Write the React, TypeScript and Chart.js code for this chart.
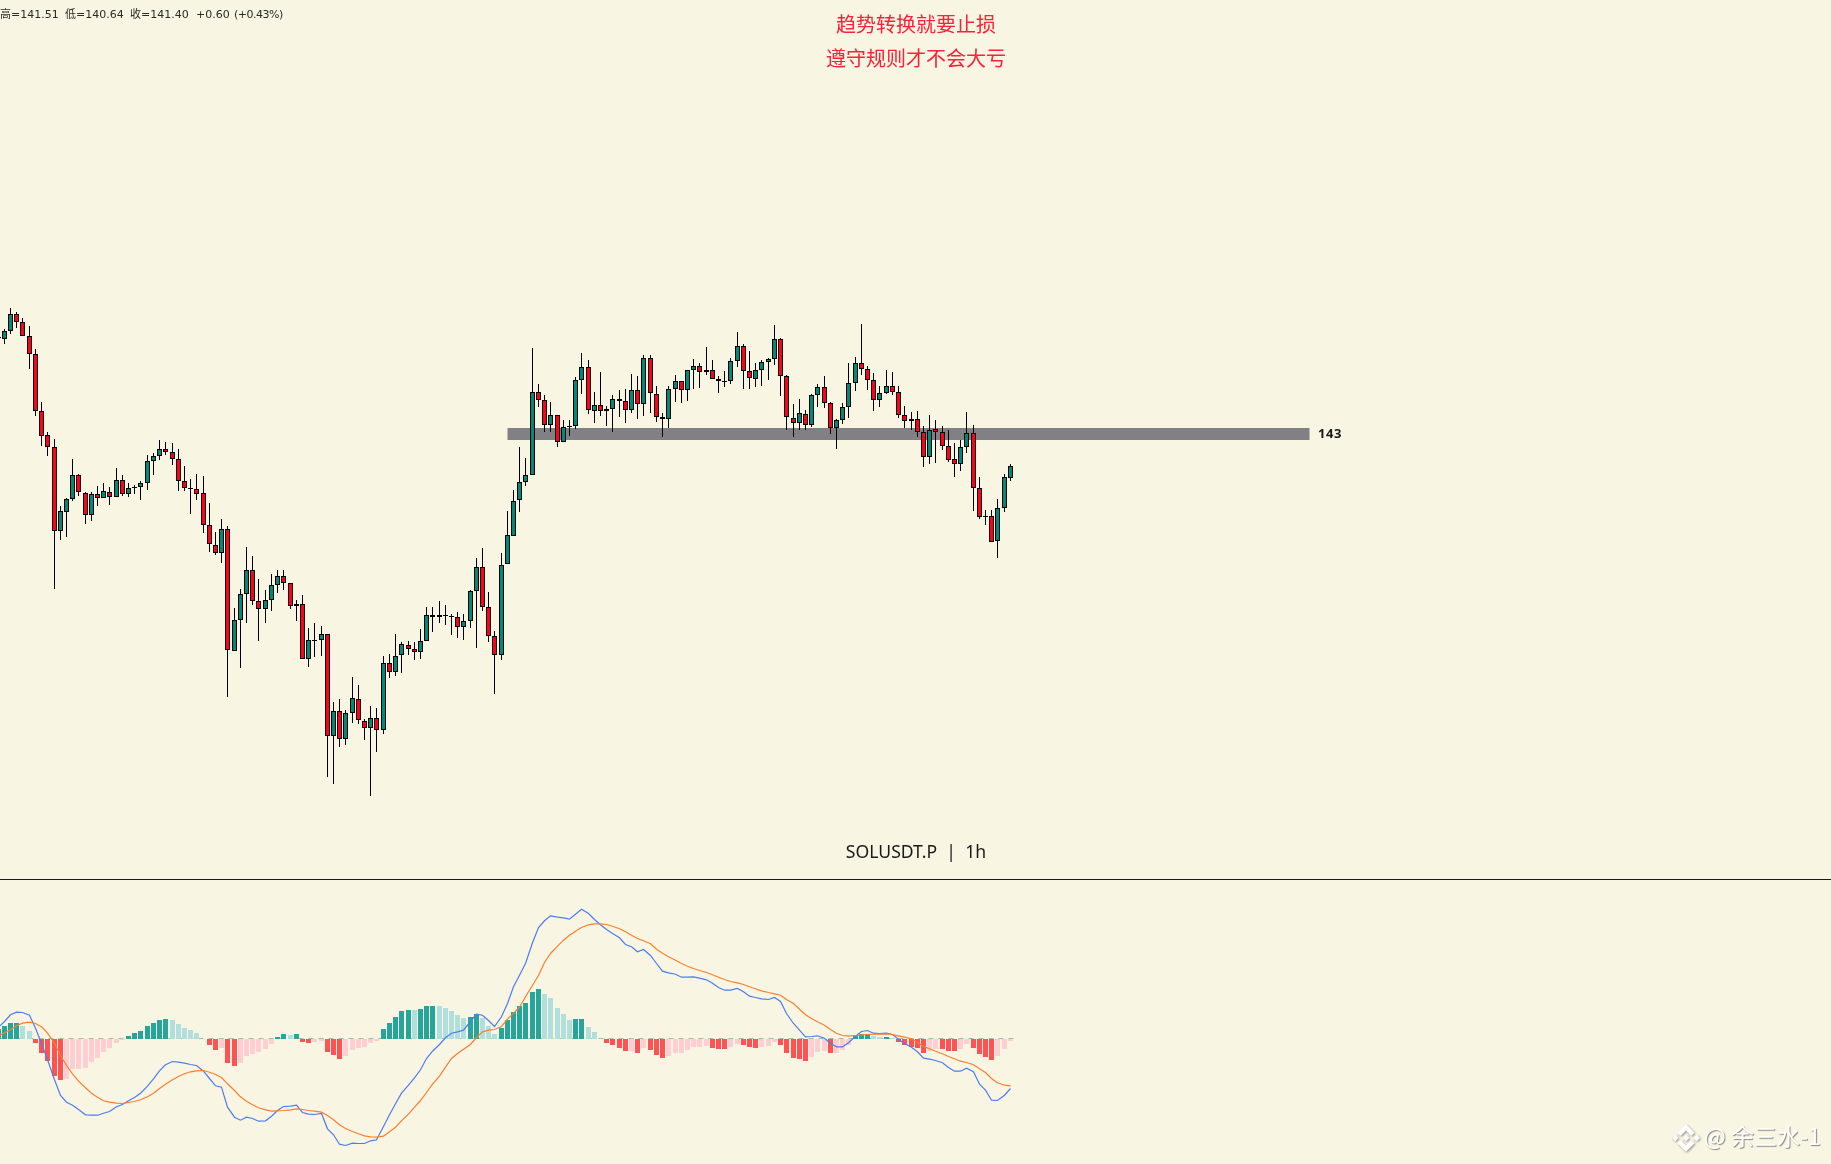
import React, { useEffect, useRef } from "react";
import { Chart, registerables, LinearScale } from "chart.js";

class SnapX extends LinearScale {
  static id = "snapX";
  getPixelForValue(v: number) {
    return Math.floor(super.getPixelForValue(v)) + 0.5;
  }
}
class SnapY extends LinearScale {
  static id = "snapY";
  getPixelForValue(v: number) {
    return Math.round(super.getPixelForValue(v));
  }
}
Chart.register(...registerables, SnapX as any, SnapY as any);

const opens = [147.85,147.77,148.13,148.98,148.58,147.88,146.98,144.13,142.93,142.33,138.13,139.08,139.73,140.93,140.03,138.93,139.98,139.78,140.08,139.83,140.68,139.98,140.28,140.33,140.53,141.63,141.88,142.23,142.08,141.73,140.63,140.28,140.23,140.03,138.43,137.43,137.03,138.23,132.13,133.68,134.98,136.18,134.63,134.23,134.68,135.43,135.88,135.53,134.38,134.48,131.73,132.68,132.68,132.98,127.88,129.13,127.73,129.03,129.73,128.63,128.28,128.78,128.18,131.53,131.08,131.93,132.43,132.23,132.08,132.63,133.93,133.83,133.93,133.88,133.87,133.33,133.63,135.13,136.33,134.33,132.88,131.93,136.48,137.88,139.68,140.58,140.93,145.08,144.68,143.43,143.93,142.58,143.33,143.38,145.68,146.33,144.13,144.43,144.13,144.23,144.73,144.63,144.18,145.18,144.48,146.78,144.98,143.83,143.73,145.23,145.63,145.18,146.18,146.38,146.08,146.18,145.73,145.63,145.63,146.63,147.38,146.13,145.73,146.18,146.58,146.73,147.73,145.88,143.78,143.53,143.98,143.43,144.93,145.33,144.53,143.28,143.68,144.33,145.53,146.53,146.23,145.68,144.68,145.03,145.38,145.08,143.93,143.63,143.73,143.08,141.83,143.23,143.08,142.38,141.73,141.48,142.33,143.03,140.28,138.88,138.88,137.63,139.28,140.8];
const closes = [147.8,148.13,148.98,148.58,147.88,146.98,144.13,142.88,142.33,138.13,139.13,139.73,140.93,140.08,138.93,139.98,139.82,140.13,139.83,140.68,139.98,140.28,140.33,140.53,141.63,141.88,142.23,142.08,141.73,140.63,140.28,140.23,140.02,138.43,137.48,137.03,138.23,132.18,133.68,134.98,136.18,134.63,134.23,134.68,135.43,135.88,135.53,134.38,134.48,131.73,132.68,132.63,132.98,127.88,129.13,127.73,129.03,129.78,128.68,128.28,128.78,128.18,131.53,131.08,131.88,132.48,132.23,132.08,132.63,133.93,133.83,133.93,133.88,133.83,133.33,133.63,135.13,136.33,134.33,132.88,131.93,136.43,137.93,139.63,140.58,140.93,145.08,144.68,143.43,143.93,142.58,143.33,143.38,145.68,146.33,144.18,144.43,144.13,144.23,144.73,144.63,144.18,145.18,144.48,146.78,145.03,143.83,143.73,145.23,145.63,145.18,146.18,146.38,146.08,146.18,145.73,145.63,145.58,146.63,147.38,146.13,145.78,146.18,146.58,146.73,147.73,145.88,143.83,143.53,144.03,143.43,144.93,145.33,144.53,143.28,143.68,144.33,145.53,146.53,146.23,145.68,144.68,145.03,145.38,145.08,143.93,143.63,143.73,143.08,141.83,143.18,143.08,142.38,141.68,141.48,142.33,143.03,140.28,138.83,138.83,137.58,139.28,140.83,141.4];
const highs = [147.87,148.23,149.28,149.08,148.78,148.38,147.23,144.58,143.08,142.73,139.38,139.78,141.73,140.98,140.1,140.08,140.38,140.53,140.33,141.28,140.93,140.53,140.43,140.63,141.93,142.03,142.68,142.58,142.53,142.23,141.38,140.73,140.98,140.88,139.53,138.08,138.73,138.38,134.28,135.23,137.33,136.88,135.73,135.18,135.98,136.18,136.18,135.53,134.68,134.93,133.28,133.53,133.38,132.98,129.58,129.73,129.18,130.83,130.43,128.73,129.38,129.28,131.88,131.98,132.98,132.58,132.63,132.58,133.23,134.33,134.33,134.63,134.43,133.98,134.08,133.98,135.18,136.78,137.28,135.08,133.13,137.03,139.13,140.18,142.33,141.78,147.28,145.48,144.93,144.58,143.93,143.68,143.68,145.83,147.03,146.68,145.08,146.08,144.38,144.93,145.18,145.23,145.98,145.88,146.93,146.93,145.38,144.03,145.38,145.93,145.63,146.18,146.73,146.53,147.33,146.68,145.88,146.13,146.78,148.08,147.48,147.13,146.53,146.68,146.78,148.43,147.78,145.93,144.48,144.73,144.18,144.98,145.48,145.88,144.58,143.73,144.53,146.53,146.83,148.48,146.38,146.03,145.38,146.18,146.08,145.38,144.38,144.08,144.13,143.38,143.93,143.68,143.38,143.18,142.53,142.68,144.08,143.43,140.83,139.18,139.18,139.73,140.98,141.51];
const lows = [147.78,147.52,148.02,148.32,147.88,146.27,143.92,142.42,141.92,135.27,137.72,137.87,139.67,139.92,138.52,138.67,139.42,139.78,139.47,139.83,139.92,139.87,140.02,139.72,140.22,140.97,141.72,141.97,141.47,140.17,140.17,139.02,139.72,138.07,137.12,136.97,136.57,129.87,132.13,131.32,133.57,134.47,132.67,133.57,134.17,135.07,135.22,134.23,133.67,131.73,131.37,131.87,131.92,125.87,125.52,127.37,127.47,128.57,128.52,127.72,124.92,127.12,128.02,130.82,130.92,131.07,131.97,131.72,131.77,132.63,133.12,133.57,133.47,132.97,132.82,132.72,133.32,132.32,134.13,132.62,130.02,131.72,136.48,137.88,139.12,140.42,140.93,144.37,143.12,143.12,142.37,142.58,142.92,143.27,145.02,144.02,143.57,143.92,143.42,143.12,143.87,143.57,144.07,143.77,143.92,144.07,143.62,142.87,143.32,144.62,144.57,144.67,145.27,145.32,145.93,145.73,145.07,145.37,145.48,146.33,145.27,145.27,145.37,145.42,145.72,146.47,144.92,143.22,142.87,143.22,143.22,143.37,144.37,144.28,143.02,142.27,143.48,143.82,145.17,145.97,145.22,144.17,144.37,144.98,144.93,143.78,143.32,143.22,142.87,141.37,141.52,141.57,142.18,141.58,140.87,141.17,142.07,139.17,138.77,138.47,137.58,136.82,139.12,140.64];

const histogram = [0.093,0.127,0.157,0.158,0.127,0.077,-0.04,-0.14,-0.223,-0.373,-0.413,-0.403,-0.303,-0.302,-0.293,-0.233,-0.193,-0.13,-0.093,-0.043,-0.013,0.027,0.057,0.077,0.127,0.157,0.187,0.197,0.187,0.147,0.107,0.087,0.057,-0.003,-0.063,-0.113,-0.093,-0.243,-0.273,-0.243,-0.173,-0.153,-0.133,-0.103,-0.053,0.017,0.047,0.037,0.047,-0.033,-0.043,-0.033,-0.023,-0.133,-0.163,-0.203,-0.173,-0.113,-0.093,-0.083,-0.043,-0.023,0.097,0.157,0.217,0.277,0.287,0.286,0.297,0.327,0.328,0.327,0.307,0.277,0.237,0.207,0.217,0.247,0.207,0.127,0.047,0.105,0.185,0.265,0.325,0.353,0.463,0.493,0.443,0.403,0.303,0.243,0.183,0.193,0.194,0.113,0.063,-0.007,-0.047,-0.067,-0.097,-0.127,-0.126,-0.147,-0.097,-0.117,-0.167,-0.197,-0.177,-0.147,-0.146,-0.117,-0.087,-0.086,-0.077,-0.097,-0.107,-0.108,-0.087,-0.057,-0.067,-0.087,-0.097,-0.087,-0.077,-0.037,-0.067,-0.147,-0.197,-0.207,-0.227,-0.187,-0.137,-0.127,-0.147,-0.146,-0.117,-0.067,0.033,0.043,0.044,0.023,0.013,0.014,0.003,-0.037,-0.067,-0.087,-0.097,-0.147,-0.127,-0.107,-0.108,-0.127,-0.128,-0.107,-0.057,-0.097,-0.157,-0.187,-0.217,-0.177,-0.107,-0.027];
const macdLine = [0.113,0.17,0.237,0.263,0.26,0.233,0.103,-0.047,-0.213,-0.413,-0.57,-0.637,-0.667,-0.71,-0.763,-0.767,-0.767,-0.747,-0.73,-0.683,-0.66,-0.623,-0.59,-0.547,-0.477,-0.403,-0.323,-0.263,-0.23,-0.237,-0.247,-0.26,-0.27,-0.327,-0.4,-0.473,-0.487,-0.687,-0.787,-0.817,-0.787,-0.8,-0.827,-0.823,-0.777,-0.72,-0.68,-0.677,-0.667,-0.74,-0.757,-0.76,-0.75,-0.903,-0.963,-1.057,-1.07,-1.047,-1.05,-1.05,-1.023,-1.013,-0.88,-0.763,-0.653,-0.547,-0.467,-0.393,-0.313,-0.2,-0.127,-0.06,0.007,0.053,0.067,0.083,0.17,0.243,0.233,0.18,0.12,0.217,0.35,0.517,0.633,0.75,0.957,1.11,1.177,1.227,1.213,1.207,1.193,1.243,1.293,1.25,1.19,1.137,1.09,1.05,1.007,0.94,0.917,0.867,0.89,0.83,0.75,0.673,0.657,0.643,0.613,0.613,0.617,0.603,0.587,0.553,0.51,0.483,0.483,0.5,0.467,0.423,0.41,0.397,0.39,0.41,0.37,0.25,0.15,0.083,0.017,0.02,0.027,0.003,-0.05,-0.083,-0.083,-0.043,0.023,0.07,0.08,0.053,0.05,0.053,0.04,-0.007,-0.05,-0.087,-0.133,-0.197,-0.207,-0.22,-0.243,-0.29,-0.327,-0.327,-0.297,-0.333,-0.457,-0.517,-0.617,-0.62,-0.567,-0.5];
const signalLine = [0.027,0.057,0.087,0.127,0.153,0.163,0.15,0.117,0.053,-0.047,-0.17,-0.27,-0.353,-0.427,-0.493,-0.547,-0.587,-0.623,-0.637,-0.647,-0.65,-0.64,-0.63,-0.613,-0.583,-0.547,-0.5,-0.457,-0.413,-0.38,-0.353,-0.333,-0.323,-0.32,-0.337,-0.36,-0.39,-0.453,-0.52,-0.583,-0.627,-0.663,-0.693,-0.713,-0.727,-0.723,-0.72,-0.713,-0.703,-0.71,-0.72,-0.727,-0.737,-0.77,-0.813,-0.863,-0.9,-0.93,-0.953,-0.973,-0.983,-0.987,-0.977,-0.933,-0.887,-0.823,-0.757,-0.687,-0.62,-0.54,-0.457,-0.377,-0.287,-0.2,-0.15,-0.107,-0.06,0.01,0.067,0.083,0.09,0.12,0.193,0.253,0.313,0.417,0.533,0.63,0.76,0.85,0.923,0.983,1.033,1.073,1.11,1.137,1.147,1.147,1.14,1.123,1.097,1.067,1.033,1.0,0.977,0.947,0.893,0.853,0.817,0.783,0.75,0.723,0.7,0.68,0.66,0.637,0.613,0.59,0.57,0.557,0.54,0.517,0.497,0.477,0.46,0.447,0.433,0.39,0.35,0.293,0.237,0.2,0.167,0.133,0.09,0.053,0.03,0.023,0.03,0.037,0.04,0.043,0.044,0.047,0.04,0.027,0.013,-0.003,-0.04,-0.077,-0.103,-0.127,-0.153,-0.18,-0.203,-0.227,-0.24,-0.263,-0.303,-0.34,-0.4,-0.443,-0.467,-0.473];

const levelPrice = 143;
const levelRange = [81.1, 210.1];
const zeroRange = [-1, 162.9];
const levelLabel = "143";
const ohlcParts = ["高=141.51", "低=140.64", "收=141.40", "+0.60", "(+0.43%)"];
const noteLines = ["趋势转换就要止损", "遵守规则才不会大亏"];
const symbolLabel = "SOLUSDT.P  |  1h";
const watermark = "@ 余三水-1";

const GREEN = "#00897B";
const RED = "#FF0019";
const BG = "#F8F5E3";
const CJK = '"Noto Sans CJK SC", "Noto Sans", sans-serif';

function histColor(i: number) {
  const v = histogram[i];
  const p = i > 0 ? histogram[i - 1] : 0;
  if (v >= 0) return v > p ? "#26A69A" : "#B2DFDB";
  return v < p ? "#FF5252" : "#FFCDD2";
}

const abs = (o: React.CSSProperties): React.CSSProperties => ({ position: "absolute", whiteSpace: "pre", lineHeight: 1, ...o });

export default function App() {
  const ref = useRef<HTMLCanvasElement>(null);
  useEffect(() => {
    const xs = opens.map((_, i) => i - 1);
    const datasets: any[] = [
      { type: "line", order: 7, yAxisID: "yLine", data: zeroRange.map((x) => ({ x, y: 0 })), borderColor: "#B4B4AE", borderWidth: 1, borderDash: [5, 5], pointRadius: 0 },
      { type: "bar", order: 6, yAxisID: "yHist", grouped: false, barThickness: 5, inflateAmount: 0, data: xs.map((x, i) => ({ x, y: histogram[i] })), backgroundColor: xs.map((_, i) => histColor(i)), borderWidth: 0 },
      { type: "line", order: 5, yAxisID: "yPrice", data: levelRange.map((x) => ({ x, y: levelPrice })), borderColor: "#808085", borderWidth: 12, borderCapStyle: "butt", pointRadius: 0 },
      { type: "bar", order: 4, yAxisID: "yPrice", grouped: false, barThickness: 1, inflateAmount: 0, data: xs.map((x, i) => ({ x, y: [lows[i], highs[i]] })), backgroundColor: "#000", borderWidth: 0 },
      { type: "bar", order: 3, yAxisID: "yPrice", grouped: false, barThickness: 5, inflateAmount: 0, data: xs.map((x, i) => ({ x, y: [opens[i], closes[i]] })), backgroundColor: xs.map((_, i) => (closes[i] >= opens[i] ? GREEN : RED)), borderColor: "#000", borderWidth: 1, borderSkipped: false },
      { type: "line", order: 2, yAxisID: "yLine", data: xs.map((x, i) => ({ x, y: macdLine[i] })), borderColor: "#4C7DF0", borderWidth: 1.2, pointRadius: 0, tension: 0 },
      { type: "line", order: 1, yAxisID: "yLine", data: xs.map((x, i) => ({ x, y: signalLine[i] })), borderColor: "#FB7F2B", borderWidth: 1.2, pointRadius: 0, tension: 0 },
    ];
    const chart = new Chart(ref.current!, {
      type: "bar",
      data: { datasets },
      options: {
        animation: false,
        responsive: false,
        devicePixelRatio: 1,
        events: [],
        layout: { padding: 0 },
        plugins: { legend: { display: false }, tooltip: { enabled: false }, title: { display: false } },
        scales: {
          x: { type: "snapX", display: false, min: -0.7005, max: 294.146, offset: false, grid: { display: false } },
          yPrice: { type: "snapY", axis: "y", display: false, min: 106.5, max: 164.7, grid: { display: false } },
          yHist: { type: "snapY", axis: "y", display: false, min: -1.255, max: 10.385, grid: { display: false } },
          yLine: { type: "linear", axis: "y", display: false, min: -1.255, max: 10.385, grid: { display: false } },
        },
      } as any,
    });
    return () => chart.destroy();
  }, []);

  return (
    <div style={{ position: "absolute", left: 0, top: 0, width: 1831, height: 1164, background: BG, overflow: "hidden" }}>
      <canvas ref={ref} width={1831} height={1164} style={{ position: "absolute", left: 0, top: 0, width: 1831, height: 1164 }} />
      <div style={{ position: "absolute", left: 0, top: 879, width: 1831, height: 1, background: "#1a1a1a" }} />
      {ohlcParts.map((t, i) => (
        <div key={t} style={abs({ left: [0, 65, 130, 196, 234][i], top: 9, fontFamily: '"DejaVu Sans", "Noto Sans CJK SC", sans-serif', fontSize: 11, letterSpacing: i === 4 ? -0.5 : 0, color: "#2a2a2a" })}>{t}</div>
      ))}
      {noteLines.map((t, i) => (
        <div key={t} style={abs({ left: 716, width: 400, textAlign: "center", top: [14, 48][i], fontFamily: CJK, fontSize: 20, color: "#FA2238" })}>{t}</div>
      ))}
      <div style={abs({ left: 1318, top: 427, fontFamily: '"Noto Sans", sans-serif', fontWeight: 700, fontSize: 13, letterSpacing: 0.6, color: "#1a1a1a" })}>{levelLabel}</div>
      <div style={abs({ left: 716, width: 400, textAlign: "center", top: 843, fontFamily: '"Noto Sans", sans-serif', fontSize: 17.6, color: "#1a1a1a" })}>{symbolLabel}</div>
      <svg viewBox="0 0 126 126" width={28} height={28} style={{ position: "absolute", left: 1672, top: 1124, filter: "drop-shadow(1px 1px 1px rgba(0,0,0,0.4))" }}>
        <path fill="#fff" d="M38.73 53.2L63 28.9l24.28 24.28 14.12-14.12L63 .67 24.6 39.07zM.67 63l14.12-14.12L28.9 63 14.79 77.12zM38.73 72.8L63 97.1l24.28-24.28 14.13 14.11L63 125.33 24.6 86.93zM97.1 63l14.12-14.12L125.33 63l-14.12 14.12zM77.33 63L63 48.67 52.4 59.26l-1.22 1.22-2.51 2.51L63 77.33z" />
      </svg>
      <div style={abs({ left: 1704, top: 1124, fontFamily: CJK, fontSize: 23, color: "#fff", textShadow: "1px 1px 1px rgba(0,0,0,0.45)" })}>{watermark}</div>
    </div>
  );
}
